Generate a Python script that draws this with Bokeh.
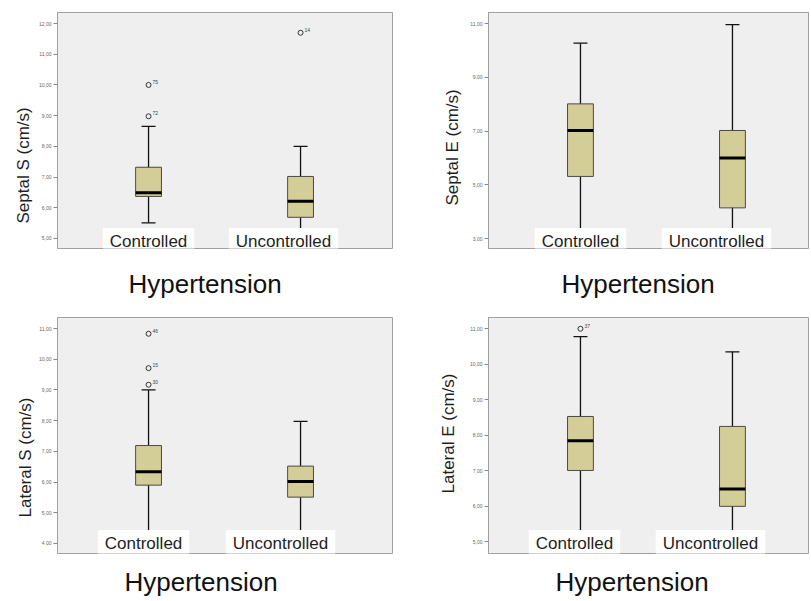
from bokeh.plotting import figure
from bokeh.models import ColumnDataSource, FixedTicker, Label, LabelSet, Title
from bokeh.layouts import gridplot
from bokeh.embed import file_html
from bokeh.resources import INLINE

# ---------------- data ----------------
groups = ["Controlled", "Uncontrolled"]
group_pos = [1, 2]
x_title = "Hypertension"

# Septal S (cm/s)
septal_s_low = [5.51, 5.20]
septal_s_q1 = [6.37, 5.69]
septal_s_median = [6.49, 6.21]
septal_s_q3 = [7.32, 7.02]
septal_s_high = [8.65, 8.00]
septal_s_out_group = [1, 1, 2]
septal_s_out_value = [8.98, 10.00, 11.70]
septal_s_out_case = ["72", "75", "14"]
septal_s_ticks = [5, 6, 7, 8, 9, 10, 11, 12]
septal_s_tick_labels = ["5,00", "6,00", "7,00", "8,00", "9,00", "10,00", "11,00", "12,00"]

# Septal E (cm/s)
septal_e_low = [3.20, 3.20]
septal_e_q1 = [5.31, 4.14]
septal_e_median = [7.02, 6.00]
septal_e_q3 = [8.01, 7.02]
septal_e_high = [10.27, 10.96]
septal_e_out_group = []
septal_e_out_value = []
septal_e_out_case = []
septal_e_ticks = [3, 5, 7, 9, 11]
septal_e_tick_labels = ["3,00", "5,00", "7,00", "9,00", "11,00"]

# Lateral S (cm/s)
lateral_s_low = [4.20, 4.20]
lateral_s_q1 = [5.90, 5.51]
lateral_s_median = [6.34, 6.02]
lateral_s_q3 = [7.19, 6.52]
lateral_s_high = [9.00, 7.98]
lateral_s_out_group = [1, 1, 1]
lateral_s_out_value = [9.17, 9.71, 10.83]
lateral_s_out_case = ["30", "15", "46"]
lateral_s_ticks = [4, 5, 6, 7, 8, 9, 10, 11]
lateral_s_tick_labels = ["4,00", "5,00", "6,00", "7,00", "8,00", "9,00", "10,00", "11,00"]

# Lateral E (cm/s)
lateral_e_low = [4.90, 4.90]
lateral_e_q1 = [7.01, 6.00]
lateral_e_median = [7.85, 6.49]
lateral_e_q3 = [8.53, 8.25]
lateral_e_high = [10.78, 10.35]
lateral_e_out_group = [1]
lateral_e_out_value = [11.00]
lateral_e_out_case = ["37"]
lateral_e_ticks = [5, 6, 7, 8, 9, 10, 11]
lateral_e_tick_labels = ["5,00", "6,00", "7,00", "8,00", "9,00", "10,00", "11,00"]

# ---------------- style ----------------
BOX_FILL = "#d3ce97"
FRAME_BG = "#efefef"
FRAME_LINE = "#a0a0a0"
FONT = "Liberation Sans"
TEXT = "#1e1e1e"
BOX_W = 0.17
CAP_HALF = 0.046


def make_panel(ylabel, low, q1, med, q3, high, og, ov, oc, ticks, tick_labels, lay):
    p = figure(frame_width=lay["fw"], frame_height=236,
               x_range=lay["xr"], y_range=lay["yr"],
               x_axis_location=None, toolbar_location=None, output_backend="svg",
               min_border_left=lay["bl"], min_border_right=lay["br"],
               min_border_top=lay["bt"], min_border_bottom=lay["bb"],
               background_fill_color=FRAME_BG, border_fill_color="white",
               outline_line_color=FRAME_LINE, outline_line_width=1)
    p.grid.visible = False

    yax = p.yaxis[0]
    yax.ticker = FixedTicker(ticks=ticks, minor_ticks=[])
    yax.major_label_overrides = {t: l for t, l in zip(ticks, tick_labels)}
    yax.axis_line_color = FRAME_LINE
    yax.major_tick_line_color = "#8a8a8a"
    yax.major_tick_out = 4
    yax.major_tick_in = 0
    yax.minor_tick_out = 0
    yax.minor_tick_in = 0
    yax.major_label_text_font = FONT
    yax.major_label_text_font_size = "5px"
    yax.major_label_text_color = "#666666"
    yax.major_label_standoff = 2

    src = ColumnDataSource(dict(
        x=group_pos, low=low, q1=q1, med=med, q3=q3, high=high,
        cap_l=[x - CAP_HALF for x in group_pos], cap_r=[x + CAP_HALF for x in group_pos],
        box_l=[x - BOX_W / 2 for x in group_pos], box_r=[x + BOX_W / 2 for x in group_pos],
    ))
    p.segment(x0="x", y0="low", x1="x", y1="high", source=src, line_color="#111111", line_width=1.3)
    p.segment(x0="cap_l", y0="high", x1="cap_r", y1="high", source=src, line_color="#111111", line_width=1.3)
    p.segment(x0="cap_l", y0="low", x1="cap_r", y1="low", source=src, line_color="#111111", line_width=1.3)
    p.vbar(x="x", width=BOX_W, bottom="q1", top="q3", source=src,
           fill_color=BOX_FILL, line_color="#4a4a4a", line_width=1)
    p.segment(x0="box_l", y0="med", x1="box_r", y1="med", source=src, line_color="black", line_width=3)

    if ov:
        osrc = ColumnDataSource(dict(x=[group_pos[g - 1] for g in og], y=ov, case=oc))
        p.scatter(x="x", y="y", source=osrc, marker="circle", size=5,
                  fill_color=None, line_color="#333333", line_width=1)
        p.add_layout(LabelSet(x="x", y="y", text="case", source=osrc, x_offset=4, y_offset=1,
                              text_font_size="5px", text_color="#444444"))

    for gx, name, dx in zip(group_pos, groups, lay["cat_dx"]):
        p.add_layout(Label(x=gx, y=lay["yr"][0], text=name, x_offset=dx, y_offset=lay["cat_dy"],
                           text_align="center", text_baseline="alphabetic",
                           text_font=FONT, text_font_size="17px", text_color=TEXT,
                           background_fill_color="white", background_fill_alpha=1.0,
                           padding=dict(left=7, right=7, top=4, bottom=4), level="overlay"))

    p.add_layout(Title(text=ylabel, align="left", offset=lay["ytitle_off"], standoff=lay["ytitle_standoff"],
                       text_font=FONT, text_font_size="17px", text_font_style="normal",
                       text_color=TEXT), "left")
    p.add_layout(Title(text=x_title, align="left",
                       offset=lay["title_off"], standoff=lay["title_standoff"],
                       text_font=FONT, text_font_size="26px", text_font_style="normal",
                       text_color="#111111"), "below")
    return p


RIGHT_XR = (0.395, 0.395 + 320 / 152)
LEFT_XR = (0.401, 0.401 + 335 / 152)

lay_tl = dict(fw=335, xr=LEFT_XR, yr=(4.674, 12.36), bl=57, br=8, bt=12, bb=68,
              cat_dx=[0, -17], cat_dy=7, ytitle_off=25, ytitle_standoff=6,
              title_off=71, title_standoff=36)
lay_tr = dict(fw=320, xr=RIGHT_XR, yr=(2.628, 11.41), bl=88, br=2, bt=12, bb=68,
              cat_dx=[0, -16], cat_dy=7, ytitle_off=43, ytitle_standoff=12,
              title_off=73, title_standoff=36)
lay_bl = dict(fw=335, xr=LEFT_XR, yr=(3.674, 11.36), bl=57, br=8, bt=1, bb=47,
              cat_dx=[-5, -20], cat_dy=10, ytitle_off=36, ytitle_standoff=2,
              title_off=67, title_standoff=22)
lay_br = dict(fw=320, xr=RIGHT_XR, yr=(4.672, 11.317), bl=88, br=2, bt=1, bb=47,
              cat_dx=[-6, -22], cat_dy=10, ytitle_off=60, ytitle_standoff=17,
              title_off=67, title_standoff=22)

p1 = make_panel("Septal S (cm/s)", septal_s_low, septal_s_q1, septal_s_median, septal_s_q3, septal_s_high,
                septal_s_out_group, septal_s_out_value, septal_s_out_case,
                septal_s_ticks, septal_s_tick_labels, lay_tl)
p2 = make_panel("Septal E (cm/s)", septal_e_low, septal_e_q1, septal_e_median, septal_e_q3, septal_e_high,
                septal_e_out_group, septal_e_out_value, septal_e_out_case,
                septal_e_ticks, septal_e_tick_labels, lay_tr)
p3 = make_panel("Lateral S (cm/s)", lateral_s_low, lateral_s_q1, lateral_s_median, lateral_s_q3, lateral_s_high,
                lateral_s_out_group, lateral_s_out_value, lateral_s_out_case,
                lateral_s_ticks, lateral_s_tick_labels, lay_bl)
p4 = make_panel("Lateral E (cm/s)", lateral_e_low, lateral_e_q1, lateral_e_median, lateral_e_q3, lateral_e_high,
                lateral_e_out_group, lateral_e_out_value, lateral_e_out_case,
                lateral_e_ticks, lateral_e_tick_labels, lay_br)

grid = gridplot([[p1, p2], [p3, p4]], toolbar_location=None)

open("out.html", "w").write(file_html(grid, INLINE))
